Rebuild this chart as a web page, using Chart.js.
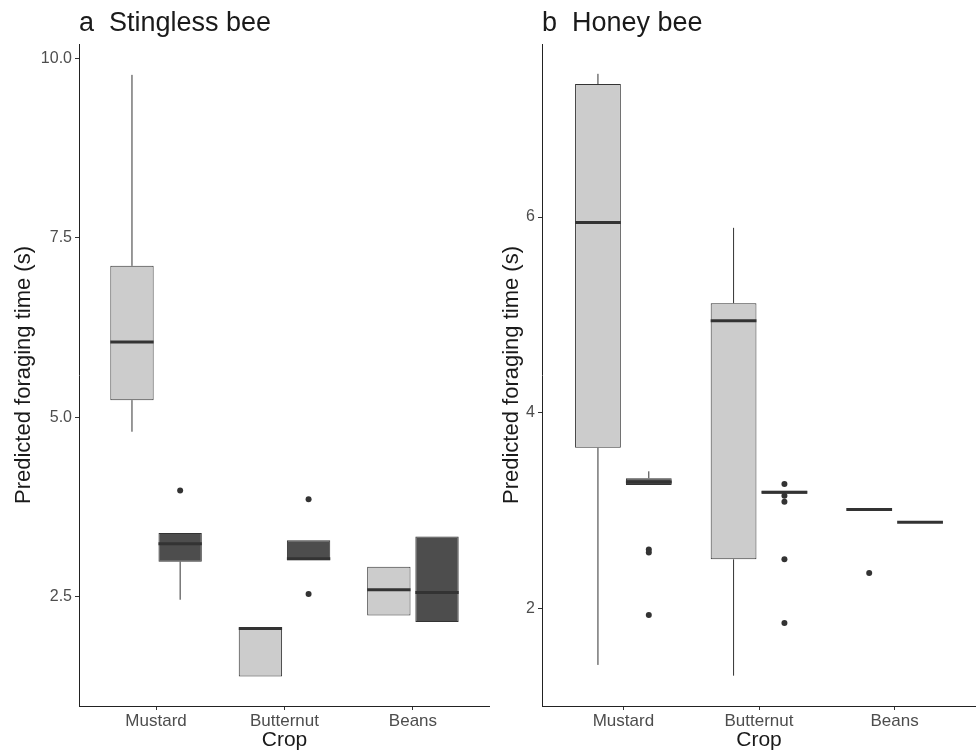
<!DOCTYPE html>
<html>
<head>
<meta charset="utf-8">
<script src="https://cdn.jsdelivr.net/npm/chart.js@4"></script>
<style>
  body { margin: 0; background: #fff; }
  canvas { position: absolute; top: 0; }
  #panelA { left: 0; }
  #panelB { left: 490px; }
</style>
</head>
<body>
<canvas id="panelA" width="490" height="751"></canvas>
<canvas id="panelB" width="486" height="751"></canvas>
<script>
const categories = ['Mustard', 'Butternut', 'Beans'];

// box stats per crop: [lower whisker, Q1, median, Q3, upper whisker]
const stinglessLight = [[4.80, 5.24, 6.05, 7.11, 9.77], [1.39, 1.39, 2.06, 2.07, 2.07], [2.24, 2.24, 2.60, 2.92, 2.92]];
const stinglessDark = [[2.46, 2.99, 3.24, 3.39, 3.39], [3.01, 3.01, 3.03, 3.29, 3.29], [2.15, 2.15, 2.56, 3.34, 3.34]];
const stinglessLightOut = [[], [], []];
const stinglessDarkOut = [[3.98], [3.86, 2.54], []];
const stinglessTicks = [2.5, 5, 7.5, 10];

const honeyLight = [[1.42, 3.64, 5.945, 7.36, 7.465], [1.31, 2.50, 4.94, 5.12, 5.89], [3.01, 3.01, 3.01, 3.01, 3.01]];
const honeyDark = [[3.26, 3.26, 3.29, 3.33, 3.40], [3.17, 3.17, 3.185, 3.20, 3.20], [2.88, 2.88, 2.88, 2.88, 2.88]];
const honeyLightOut = [[], [], [2.36]];
const honeyDarkOut = [[2.60, 2.57, 1.93], [3.27, 3.15, 3.09, 2.50, 1.85], []];
const honeyTicks = [2, 4, 6];

Chart.defaults.font.family = '"Liberation Sans", Arial, sans-serif';

// whiskers, medians and outliers on top of the floating bars
const boxExtras = {
    id: 'boxExtras',
    afterDatasetsDraw(chart) {
        const ctx = chart.ctx;
        const y = chart.scales.y;
        chart.data.datasets.forEach((ds, d) => {
            chart.getDatasetMeta(d).data.forEach((bar, i) => {
                const s = ds.stats[i];
                const half = bar.width / 2;
                ctx.save();
                ctx.strokeStyle = '#333';
                ctx.lineWidth = 1;
                ctx.beginPath();
                if (s[4] > s[3]) {
                    ctx.moveTo(bar.x, y.getPixelForValue(s[3]));
                    ctx.lineTo(bar.x, y.getPixelForValue(s[4]));
                }
                if (s[0] < s[1]) {
                    ctx.moveTo(bar.x, y.getPixelForValue(s[1]));
                    ctx.lineTo(bar.x, y.getPixelForValue(s[0]));
                }
                ctx.stroke();
                const ym = y.getPixelForValue(s[2]);
                ctx.lineWidth = 3;
                ctx.beginPath();
                ctx.moveTo(bar.x - half, ym);
                ctx.lineTo(bar.x + half, ym);
                ctx.stroke();
                ctx.fillStyle = '#333';
                ds.outliers[i].forEach(v => {
                    ctx.beginPath();
                    ctx.arc(bar.x, y.getPixelForValue(v), 3, 0, Math.PI * 2);
                    ctx.fill();
                });
                ctx.restore();
            });
        });
    }
};

function boxDataset(stats, outliers, fill) {
    return {
        data: stats.map((s, i) => ({ x: i + 1, y: [s[1], s[3]] })),
        stats,
        outliers,
        backgroundColor: fill,
        borderColor: '#333',
        borderWidth: 1,
        borderSkipped: false,
        categoryPercentage: 0.75,
        barPercentage: 0.9,
    };
}

function makePanel(id, title, light, dark, lightOut, darkOut, ticks, yMin, yMax, decimals, axisWidth, titlePad) {
    new Chart(document.getElementById(id), {
        type: 'bar',
        data: {
            datasets: [
                boxDataset(light, lightOut, '#cccccc'),
                boxDataset(dark, darkOut, '#4d4d4d'),
            ]
        },
        options: {
            responsive: false,
            animation: false,
            layout: { padding: 0 },
            plugins: {
                legend: { display: false },
                tooltip: { enabled: false },
                title: {
                    display: true, text: title, align: 'start', fullSize: false,
                    color: '#1a1a1a', font: { size: 27, weight: 'normal', lineHeight: 1 },
                    padding: { top: 10, bottom: 7 }
                }
            },
            scales: {
                x: {
                    type: 'linear', min: 0.4, max: 3.6, offset: false,
                    afterBuildTicks: s => { s.ticks = categories.map((c, i) => ({ value: i + 1 })); },
                    afterFit: s => { s.height = 45; },
                    ticks: { callback: (v, i) => categories[i], color: '#4d4d4d', font: { size: 17 }, padding: 1, maxRotation: 0 },
                    grid: { display: true, offset: false, drawOnChartArea: false, drawTicks: true, tickLength: 4, color: '#333' },
                    border: { display: true, color: '#222', width: 1 },
                    title: { display: true, text: 'Crop', color: '#1a1a1a', font: { size: 21, lineHeight: 1 }, padding: { top: 0, bottom: 0 } }
                },
                y: {
                    min: yMin, max: yMax,
                    afterBuildTicks: s => { s.ticks = ticks.map(v => ({ value: v })); },
                    afterFit: s => { s.width = axisWidth; },
                    ticks: { callback: v => v.toFixed(decimals), color: '#4d4d4d', font: { size: 16 }, padding: 3 },
                    grid: { display: true, drawOnChartArea: false, drawTicks: true, tickLength: 4, color: '#333' },
                    border: { display: true, color: '#222', width: 1 },
                    title: { display: true, text: 'Predicted foraging time (s)', color: '#1a1a1a', font: { size: 22, lineHeight: 1 }, padding: { top: titlePad, bottom: 0 } }
                }
            }
        },
        plugins: [boxExtras]
    });
}

makePanel('panelA', 'a  Stingless bee', stinglessLight, stinglessDark, stinglessLightOut, stinglessDarkOut,
    stinglessTicks, 0.98, 10.2, 1, 79, 13);
makePanel('panelB', 'b  Honey bee', honeyLight, honeyDark, honeyLightOut, honeyDarkOut,
    honeyTicks, 1.0, 7.77, 0, 52, 11);
</script>
</body>
</html>
